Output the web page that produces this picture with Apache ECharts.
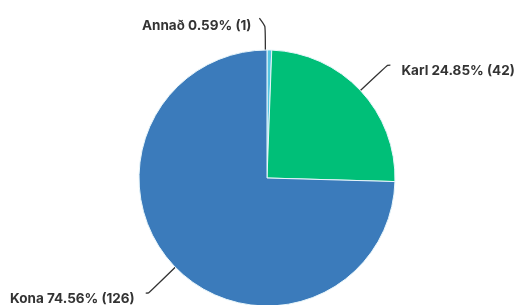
<!DOCTYPE html>
<html lang="is">
<head>
    <meta charset="utf-8">
    <title>Kyn</title>
    <script src="https://cdn.jsdelivr.net/npm/echarts@6/dist/echarts.min.js"></script>
    <style>
        html, body { margin: 0; padding: 0; background: #fff; }
        #chart { width: 520px; height: 305px; }
    </style>
</head>
<body>
<div id="chart"></div>
<script>
    // gögn
    var categories = ['Annað', 'Karl', 'Kona'];
    var counts = [1, 42, 126];
    var colors = ['#56c6e2', '#00bf78', '#3b7bbb'];

    var myChart = echarts.init(document.getElementById('chart'));

    var pieData = categories.map(function (name, i) {
        return {name: name, value: counts[i], itemStyle: {color: colors[i]}};
    });

    myChart.setOption({
        backgroundColor: '#fff',
        animation: false,
        series: [
            {
                type: 'pie',
                center: [267, 178],
                radius: 128,
                startAngle: 90,
                clockwise: true,
                percentPrecision: 2,
                avoidLabelOverlap: false,
                data: pieData,
                itemStyle: {
                    borderColor: '#e8f6fb',
                    borderWidth: 1
                },
                label: {
                    show: true,
                    formatter: '{b} {d}% ({c})',
                    fontFamily: 'Inter',
                    fontWeight: 'bold',
                    fontSize: 13.5,
                    color: '#333',
                    distanceToLabelLine: 11
                },
                labelLine: {
                    show: true,
                    length: 37,
                    length2: 3,
                    smooth: 0.2,
                    lineStyle: {color: '#333', width: 1.3}
                },
                labelLayout: function (params) {
                    var pts = params.labelLinePoints;
                    // litla sneiðin: merki til vinstri við línuna
                    if (params.dataIndex === 0) {
                        var p0 = [pts[0][0] - 4, pts[0][1] + 3];
                        var p1 = [p0[0], p0[1] - 27];
                        var p2 = [p1[0] - 6, p1[1] - 8];
                        return {
                            x: p2[0] - 8,
                            y: p2[1] + 8,
                            align: 'right',
                            verticalAlign: 'middle',
                            labelLinePoints: [p0, p1, p2]
                        };
                    }
                    return {dy: 6, labelLinePoints: pts};
                }
            }
        ]
    });
</script>
</body>
</html>
